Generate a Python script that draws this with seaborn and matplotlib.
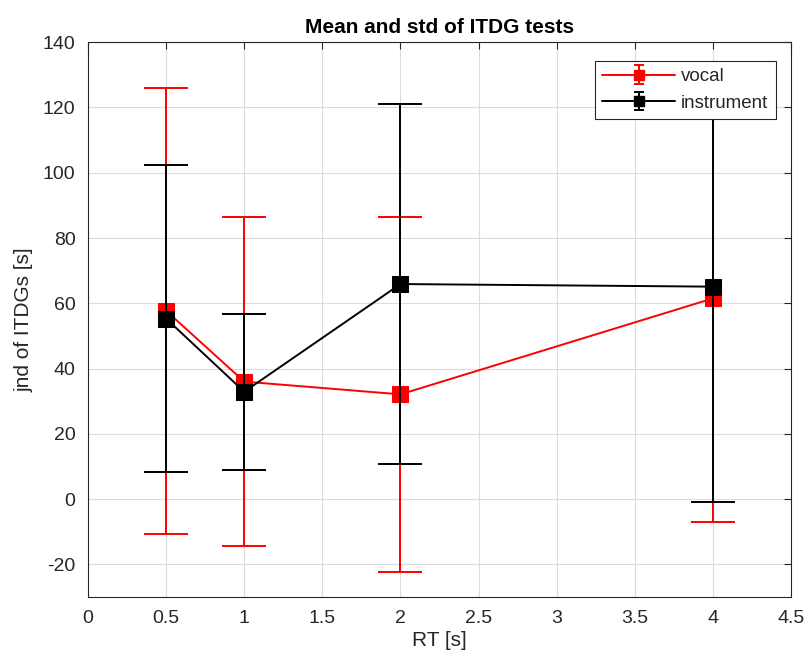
import matplotlib
matplotlib.use("Agg")
import matplotlib.pyplot as plt
import seaborn as sns
import pandas as pd
import numpy as np

# Reverberation times and ITDG jnd statistics
rt = [0.5, 1, 2, 4]
vocal_mean = [57.7, 36.0, 32.1, 61.5]
vocal_std = [68.4, 50.5, 54.4, 68.5]
instrument_mean = [55.3, 32.9, 65.9, 65.1]
instrument_std = [47.0, 23.9, 55.2, 66.1]

sns.set_style("white")
plt.rcParams["font.family"] = ["Liberation Sans", "DejaVu Sans"]
plt.rcParams["axes.unicode_minus"] = False

fig = plt.figure(figsize=(8.09, 6.66), dpi=100)
ax = fig.add_axes([0.1088, 0.1036, 0.869, 0.833])

df = pd.DataFrame({
    "RT": rt * 2,
    "jnd": vocal_mean + instrument_mean,
    "std": vocal_std + instrument_std,
    "group": ["vocal"] * 4 + ["instrument"] * 4,
})
palette = {"vocal": "#ff0000", "instrument": "#000000"}

handles = []
for name in ["vocal", "instrument"]:
    sub = df[df["group"] == name]
    c = palette[name]
    sns.lineplot(data=sub, x="RT", y="jnd", color=c, lw=1.4, marker="s",
                 markersize=12, markeredgecolor=c, ax=ax, legend=False,
                 zorder=3)
    ax.errorbar(sub["RT"], sub["jnd"], yerr=sub["std"], fmt="none",
                ecolor=c, elinewidth=1.4, capsize=15.5, capthick=1.4,
                zorder=3)
    # compact proxy for the legend entry
    h = ax.errorbar([np.nan], [np.nan], yerr=[1.0], fmt="s-", color=c,
                    ecolor=c, lw=1.4, elinewidth=1.4, capsize=3.5,
                    capthick=1.4, markersize=7.5)
    handles.append(h)

ax.set_xlim(0, 4.5)
ax.set_ylim(-30, 140)
ax.set_xticks([0, 0.5, 1, 1.5, 2, 2.5, 3, 3.5, 4, 4.5])
ax.set_xticklabels(["0", "0.5", "1", "1.5", "2", "2.5", "3", "3.5", "4", "4.5"])
ax.set_yticks(range(-20, 141, 20))
ax.grid(True, color="#dcdcdc", lw=0.8)
ax.set_axisbelow(True)
ax.tick_params(direction="in", length=5, width=0.8, colors="#262626",
               labelsize=14, top=True, right=True, pad=9)
for s in ax.spines.values():
    s.set_color("#262626")
    s.set_linewidth(0.8)

ax.set_xlabel("RT [s]", fontsize=15, color="#262626", labelpad=3)
ax.set_ylabel("jnd of ITDGs [s]", fontsize=15, color="#262626", labelpad=7)
ax.set_title("Mean and std of ITDG tests", fontsize=15, fontweight="bold",
             color="black", pad=7)

leg = ax.legend(handles=handles, labels=["vocal", "instrument"],
                loc="upper right", bbox_to_anchor=(0.978, 0.967), fontsize=13.5,
                frameon=True, fancybox=False, edgecolor="#262626",
                framealpha=1.0, handlelength=3.9, borderpad=0.4,
                labelspacing=0.5, handletextpad=0.3, borderaxespad=0)
leg.get_frame().set_linewidth(0.8)
leg.set_zorder(5)

fig.savefig("out.png", dpi=100)
